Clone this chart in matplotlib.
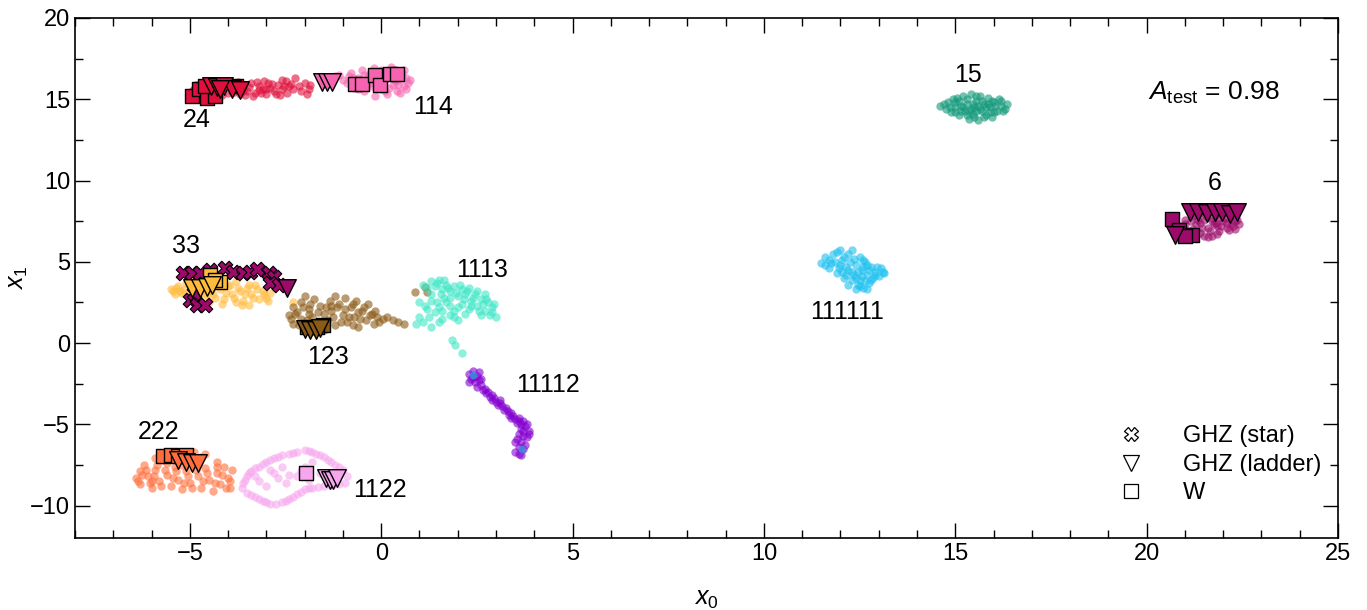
import numpy as np
import matplotlib
matplotlib.use("Agg")
import matplotlib.pyplot as plt
from matplotlib.lines import Line2D
from matplotlib.ticker import MultipleLocator

plt.rcParams['font.family'] = ['Liberation Sans', 'DejaVu Sans']
plt.rcParams['mathtext.fontset'] = 'custom'
plt.rcParams['mathtext.rm'] = 'Liberation Sans'
plt.rcParams['mathtext.it'] = 'Liberation Sans:italic'

# --- embedded points per partition class (x0, x1) ---
pts_24 = [(-5.0, 15.3), (-4.9, 15.6), (-4.8, 15.2), (-4.7, 15.8), (-4.6, 15.4), (-4.5, 15.9),
          (-4.4, 15.5), (-4.3, 15.2), (-4.2, 15.7), (-4.1, 16.0), (-4.0, 15.4), (-3.9, 15.6),
          (-3.8, 15.9), (-3.7, 15.3), (-3.6, 15.7), (-3.5, 15.5), (-3.4, 16.0), (-3.3, 15.4),
          (-3.2, 15.8), (-3.1, 15.6), (-3.0, 15.3), (-2.95, 16.0), (-2.9, 15.7), (-2.8, 15.5),
          (-2.7, 15.9), (-2.6, 15.6), (-2.5, 16.1), (-2.45, 15.4), (-2.4, 15.8), (-2.3, 15.6),
          (-2.25, 16.3), (-2.1, 15.5), (-2.0, 16.0), (-1.95, 15.3), (-1.9, 15.6), (-3.35, 15.2),
          (-3.75, 16.05), (-2.65, 15.25), (-3.05, 16.1), (-4.35, 16.05),
          (-4.95, 15.5), (-4.85, 15.9), (-4.65, 15.1), (-4.55, 15.65), (-4.25, 15.45),
          (-4.15, 15.25), (-3.95, 15.9), (-3.85, 15.45), (-3.65, 15.95), (-3.55, 15.25),
          (-3.45, 15.75), (-3.25, 16.05), (-3.15, 15.4), (-2.85, 15.95), (-2.75, 15.35),
          (-2.55, 15.8), (-2.35, 15.95), (-2.15, 15.8), (-3.6, 15.5), (-3.0, 15.6), (-2.6, 16.2),
          (-1.85, 15.9), (-3.2, 15.55), (-4.0, 16.1)]
pts_114 = [(-1.3, 16.2), (-1.1, 16.5), (-0.9, 16.0), (-0.8, 16.6), (-0.7, 15.7), (-0.6, 16.3),
           (-0.5, 16.8), (-0.45, 15.5), (-0.4, 16.1), (-0.3, 16.6), (-0.25, 15.8), (-0.2, 16.9),
           (-0.1, 16.3), (0.0, 15.6), (0.05, 16.0), (0.1, 16.7), (0.15, 15.3), (0.2, 16.4),
           (0.3, 15.9), (0.35, 16.8), (0.4, 15.5), (0.45, 16.2), (0.55, 16.6), (0.6, 15.8),
           (0.65, 16.3), (0.7, 16.0), (-0.55, 15.9), (-0.15, 15.2), (0.25, 17.0), (-0.75, 16.3),
           (0.5, 15.4), (-0.35, 16.4),
           (-1.2, 16.4), (-1.0, 16.2), (-0.85, 16.4), (-0.65, 16.0), (-0.45, 16.5), (-0.3, 16.0),
           (-0.2, 16.5), (-0.05, 16.0), (0.0, 16.8), (0.1, 16.2), (0.2, 15.7), (0.3, 16.5),
           (0.45, 15.9), (0.55, 16.3), (0.65, 15.6), (0.75, 16.2), (-0.6, 15.6), (0.1, 15.5),
           (-0.1, 16.6), (0.35, 16.1), (-0.4, 15.8), (0.6, 16.8)]
pts_15 = [(14.6, 14.6), (14.75, 14.4), (14.8, 14.8), (14.9, 14.2), (14.95, 15.0), (15.0, 14.5),
          (15.1, 14.0), (15.1, 14.9), (15.2, 15.2), (15.25, 14.3), (15.3, 14.7), (15.35, 13.8),
          (15.4, 15.3), (15.45, 14.1), (15.5, 14.5), (15.55, 14.9), (15.6, 13.7), (15.65, 15.2),
          (15.7, 14.3), (15.75, 14.7), (15.8, 14.0), (15.85, 15.1), (15.9, 14.5), (15.95, 13.9),
          (16.0, 14.8), (16.1, 14.3), (16.15, 15.0), (16.2, 14.6), (16.3, 14.4), (16.35, 14.7),
          (15.2, 14.5), (15.6, 14.6), (15.4, 14.4), (15.8, 14.5), (15.0, 14.2), (16.0, 14.2),
          (14.7, 14.7), (14.85, 14.5), (15.0, 14.8), (15.05, 15.1), (15.15, 14.6), (15.3, 14.0),
          (15.3, 15.0), (15.45, 14.7), (15.5, 13.9), (15.55, 15.2), (15.65, 14.4), (15.7, 14.9),
          (15.75, 13.9), (15.9, 14.2), (15.95, 14.9), (16.05, 14.6), (16.2, 14.9), (16.25, 14.3),
          (15.35, 14.3), (15.85, 14.7), (15.15, 14.3), (15.55, 14.3)]
pts_111111 = [(11.5, 4.9), (11.6, 5.3), (11.7, 4.6), (11.8, 5.5), (11.85, 5.0), (11.9, 4.3),
              (12.0, 5.7), (12.0, 4.8), (12.1, 4.0), (12.1, 5.3), (12.2, 4.5), (12.2, 3.6),
              (12.25, 5.0), (12.3, 5.7), (12.35, 4.2), (12.4, 3.3), (12.4, 4.8), (12.5, 5.3),
              (12.5, 3.9), (12.55, 4.5), (12.6, 3.4), (12.65, 5.0), (12.7, 4.2), (12.75, 3.7),
              (12.8, 4.7), (12.85, 4.0), (12.9, 4.4), (13.0, 4.1), (13.05, 4.6), (13.15, 4.3),
              (12.3, 3.9), (12.05, 4.4), (12.45, 4.4), (12.7, 3.3), (11.75, 4.9), (12.6, 4.7),
              (11.6, 4.8), (11.7, 5.1), (11.9, 5.6), (11.95, 4.6), (12.05, 5.1), (12.15, 4.7),
              (12.2, 5.5), (12.3, 4.4), (12.35, 5.2), (12.45, 3.6), (12.55, 4.1), (12.6, 5.1),
              (12.65, 3.8), (12.75, 4.5), (12.8, 3.9), (12.9, 4.2), (12.95, 4.7), (13.1, 4.4),
              (12.4, 4.0), (12.15, 4.2), (12.5, 3.5), (12.7, 4.8)]
pts_6 = [(20.9, 7.2), (21.0, 7.6), (21.1, 6.9), (21.2, 7.8), (21.3, 7.3), (21.4, 6.8), (21.5, 7.6),
         (21.5, 8.1), (21.6, 7.1), (21.7, 7.5), (21.7, 6.6), (21.8, 7.9), (21.85, 7.2), (21.9, 6.9),
         (22.0, 7.5), (22.0, 8.0), (22.1, 7.1), (22.2, 7.4), (22.3, 7.0), (22.35, 7.6), (21.3, 7.9),
         (21.6, 6.5), (21.9, 7.7), (21.2, 7.0), (22.2, 7.8), (21.4, 7.4), (22.4, 7.3), (21.75, 7.3),
         (21.0, 7.3), (21.15, 7.5), (21.25, 6.8), (21.35, 7.6), (21.45, 7.1), (21.55, 7.8),
         (21.65, 6.9), (21.8, 7.4), (21.95, 7.2), (22.05, 7.7), (22.15, 6.95), (22.25, 7.2),
         (22.3, 7.5), (21.5, 6.6), (21.85, 6.7), (22.1, 7.4), (21.7, 7.7), (21.4, 8.0)]
pts_33 = [(-5.5, 3.3), (-5.4, 3.0), (-5.3, 3.5), (-5.2, 3.1), (-5.1, 3.7), (-5.0, 3.3), (-4.9, 2.9),
          (-4.8, 3.6), (-4.7, 3.2), (-4.6, 2.8), (-4.5, 3.5), (-4.4, 3.0), (-4.3, 3.7), (-4.2, 3.3),
          (-4.1, 2.7), (-4.0, 3.5), (-3.9, 3.0), (-3.8, 3.8), (-3.7, 3.2), (-3.6, 2.6), (-3.5, 3.4),
          (-3.4, 3.0), (-3.3, 3.6), (-3.2, 2.7), (-3.1, 3.2), (-3.0, 2.8), (-2.9, 3.1), (-2.3, 2.5),
          (-4.5, 2.5), (-3.8, 2.5), (-4.9, 3.9), (-3.45, 2.35),
          (-5.45, 3.2), (-5.35, 3.4), (-5.15, 3.3), (-5.05, 2.9), (-4.95, 3.5), (-4.75, 3.0),
          (-4.65, 3.5), (-4.45, 3.2), (-4.35, 2.8), (-4.25, 3.5), (-4.05, 3.1), (-3.95, 3.6),
          (-3.85, 2.8), (-3.75, 3.4), (-3.55, 3.0), (-3.45, 3.6), (-3.35, 2.8), (-3.25, 3.3),
          (-3.05, 3.0), (-2.95, 2.6), (-4.15, 2.4), (-3.65, 2.35), (-5.25, 3.2), (-4.55, 3.0)]
pts_123 = [(-2.4, 1.7), (-2.3, 2.2), (-2.3, 1.2), (-2.2, 1.9), (-2.1, 2.5), (-2.1, 1.5), (-2.0, 1.0),
           (-1.9, 2.1), (-1.8, 1.6), (-1.75, 2.7), (-1.7, 1.2), (-1.6, 2.3), (-1.5, 1.8), (-1.4, 1.4),
           (-1.35, 2.6), (-1.3, 2.0), (-1.2, 1.1), (-1.1, 2.4), (-1.0, 1.7), (-0.95, 2.8), (-0.9, 1.3),
           (-0.8, 2.2), (-0.7, 1.6), (-0.65, 2.6), (-0.6, 1.0), (-0.5, 2.0), (-0.4, 1.4), (-0.35, 2.4),
           (-0.25, 1.8), (-0.2, 1.2), (-0.1, 1.6), (0.15, 1.6), (0.3, 1.4), (0.45, 1.3), (0.6, 1.2),
           (0.89, 3.15), (1.15, 3.46), (1.19, 3.15), (-2.0, 2.9), (-1.5, 0.8), (-1.2, 2.9), (-0.75, 1.1),
           (-2.35, 1.5), (-2.25, 1.8), (-2.15, 1.1), (-2.05, 2.2), (-1.95, 1.4), (-1.85, 2.4),
           (-1.65, 1.9), (-1.55, 1.1), (-1.45, 2.2), (-1.25, 1.6), (-1.15, 2.2), (-1.05, 1.3),
           (-0.95, 2.1), (-0.85, 1.6), (-0.75, 2.4), (-0.55, 1.5), (-0.45, 2.2), (-0.3, 1.7),
           (-0.15, 2.0), (-0.05, 1.3), (0.05, 1.5), (-1.3, 2.3), (-1.9, 1.8), (-0.6, 1.9)]
pts_1113 = [(1.1, 3.6), (1.3, 3.8), (1.4, 3.5), (1.5, 3.9), (1.6, 3.3), (1.55, 3.0), (1.7, 3.6),
            (1.8, 3.2), (1.9, 3.5), (2.0, 2.9), (2.1, 3.3), (2.2, 3.0), (2.3, 3.4), (2.4, 2.8),
            (2.5, 3.2), (2.6, 2.7), (2.7, 3.0), (2.8, 2.5), (2.9, 2.2), (3.0, 1.6), (2.9, 1.9),
            (2.7, 2.0), (2.5, 2.3), (2.3, 2.1), (2.1, 2.4), (1.9, 2.0), (1.7, 2.5), (1.5, 2.2),
            (1.3, 2.6), (1.4, 1.9), (1.2, 2.1), (1.6, 1.5), (1.8, 1.7), (2.0, 1.4), (1.1, 1.3),
            (0.9, 1.2), (1.0, 1.6), (1.3, 1.0), (2.2, 1.8), (2.6, 1.7), (1.86, 0.18), (1.93, -0.12),
            (2.12, -0.61), (1.8, 2.8), (1.3, 3.0), (1.0, 2.5),
            (1.2, 3.4), (1.45, 3.7), (1.65, 3.9), (1.75, 3.4), (1.95, 3.1), (2.05, 3.6), (2.25, 3.2),
            (2.35, 2.6), (2.45, 3.0), (2.65, 2.4), (2.75, 2.7), (2.95, 2.4), (2.85, 1.7), (2.55, 2.0),
            (2.35, 2.3), (2.0, 2.2), (1.8, 2.3), (1.6, 2.0), (1.45, 2.5), (1.25, 1.6), (1.5, 1.3),
            (1.9, 1.6), (1.15, 2.3), (1.65, 2.8), (2.15, 2.7)]
pts_11112 = [(2.3, -1.9), (2.4, -1.7), (2.5, -2.0), (2.35, -2.2), (2.55, -1.8), (2.45, -2.4),
             (2.6, -2.2), (2.5, -2.7), (2.65, -2.9), (2.75, -3.1), (2.85, -3.3), (2.9, -3.5),
             (3.0, -3.6), (3.05, -3.8), (3.15, -3.9), (3.2, -4.1), (3.3, -4.2), (3.35, -4.4),
             (3.45, -4.5), (3.5, -4.7), (3.55, -4.9), (3.6, -4.6), (3.7, -4.8), (3.75, -5.1),
             (3.65, -5.3), (3.6, -5.6), (3.55, -5.9), (3.7, -5.7), (3.65, -6.1), (3.6, -6.4),
             (3.75, -6.3), (3.6, -6.8), (3.85, -5.4), (2.9, -3.2), (3.1, -3.7), (3.4, -4.3),
             (2.4, -2.1), (2.55, -2.3), (2.6, -2.6), (2.7, -2.8), (2.8, -3.0), (2.95, -3.4),
             (3.1, -3.5), (3.25, -4.0), (3.4, -4.6), (3.6, -4.8), (3.8, -5.0), (3.7, -5.4),
             (3.8, -5.8), (3.5, -6.1), (3.7, -6.5), (3.5, -6.7), (3.65, -6.9), (3.85, -5.6),
             (2.3, -2.4), (3.65, -5.0)]
pts_blue = [(2.40, -1.97), (3.68, -6.53)]
pts_222 = [(-6.4, -8.3), (-6.3, -7.9), (-6.3, -8.7), (-6.2, -7.5), (-6.1, -8.2), (-6.0, -8.9),
           (-5.9, -7.8), (-5.8, -8.5), (-5.7, -7.2), (-5.6, -8.1), (-5.5, -8.8), (-5.4, -7.6),
           (-5.3, -8.4), (-5.2, -9.0), (-5.1, -7.9), (-5.0, -8.6), (-4.9, -7.3), (-4.8, -8.2),
           (-4.7, -8.9), (-4.6, -7.7), (-4.5, -8.4), (-4.4, -9.1), (-4.3, -8.0), (-4.2, -8.7),
           (-4.1, -7.6), (-4.0, -8.3), (-3.95, -8.9), (-4.6, -6.8), (-4.9, -6.7), (-5.5, -6.9),
           (-5.9, -7.1), (-4.3, -7.3), (-3.9, -7.8), (-6.0, -8.5), (-5.3, -7.0),
           (-6.35, -8.5), (-6.25, -8.1), (-6.15, -7.8), (-6.05, -8.6), (-5.95, -8.2), (-5.85, -7.5),
           (-5.75, -8.8), (-5.65, -7.8), (-5.45, -8.3), (-5.35, -7.9), (-5.15, -8.6), (-5.05, -8.2),
           (-4.95, -8.9), (-4.85, -7.8), (-4.65, -8.5), (-4.55, -8.0), (-4.35, -8.6), (-4.15, -8.1),
           (-4.05, -8.9), (-5.6, -7.4), (-5.2, -7.5), (-4.7, -7.0), (-4.3, -7.6), (-3.95, -8.5)]
pts_1122 = [(-3.6, -8.6), (-3.5, -8.2), (-3.4, -7.9), (-3.2, -7.6), (-3.0, -7.3), (-2.8, -7.1),
            (-2.6, -6.9), (-2.4, -6.8), (-2.2, -6.7), (-2.0, -6.6), (-1.8, -6.7), (-1.6, -6.9),
            (-1.4, -7.2), (-1.2, -7.5), (-1.0, -7.8), (-0.9, -8.2), (-3.5, -9.2), (-3.3, -9.5),
            (-3.1, -9.7), (-2.9, -9.9), (-2.6, -9.8), (-2.4, -9.6), (-2.2, -9.3), (-2.0, -9.0),
            (-1.8, -8.9), (-1.5, -8.8), (-1.2, -8.7), (-0.95, -8.6), (-2.8, -8.0), (-2.5, -8.6),
            (-2.2, -8.2), (-3.0, -8.8), (-2.0, -7.6), (-2.6, -7.6), (-1.6, -8.0), (-1.8, -7.3),
            (-3.2, -8.5), (-1.3, -8.2),
            (-3.65, -8.9), (-3.55, -8.4), (-3.45, -8.0), (-3.3, -7.7), (-3.1, -7.45), (-2.9, -7.2),
            (-2.7, -7.0), (-2.3, -6.75), (-1.9, -6.65), (-1.7, -6.8), (-1.5, -7.0), (-1.3, -7.35),
            (-1.1, -7.6), (-3.4, -9.35), (-3.2, -9.6), (-3.0, -9.8), (-2.75, -9.9), (-2.5, -9.7),
            (-2.3, -9.45), (-2.1, -9.15), (-1.9, -8.95), (-1.65, -8.85), (-1.35, -8.75),
            (-1.1, -8.65), (-2.7, -8.3), (-2.4, -8.1), (-2.1, -7.9), (-1.9, -8.4), (-2.9, -7.8),
            (-3.3, -8.2)]

classes = ['24', '114', '15', '111111', '6', '33', '123', '1113', '11112', '222', '1122']
class_pts = [pts_24, pts_114, pts_15, pts_111111, pts_6, pts_33, pts_123, pts_1113,
             pts_11112, pts_222, pts_1122]
class_colors = ['#e0103c', '#f763b0', '#12997a', '#1cc0f0', '#9c0a6a', '#ffbb3c', '#8b5a16',
                '#3ee6c6', '#8400d0', '#ff6e3c', '#f7a6ee']
label_pos = [(-4.83, 13.7), (1.36, 14.5), (15.34, 16.5), (12.18, 1.9), (21.77, 9.83),
             (-5.1, 5.96), (-1.38, -0.86), (2.64, 4.49), (4.36, -2.58), (-5.83, -5.47),
             (-0.03, -9.03)]

# --- special states: (x0, x1, colour) ---
ghz_star = [(-5.17, 4.28), (-4.95, 4.28), (-4.73, 4.28), (-4.47, 4.49), (-4.08, 4.59),
            (-3.86, 4.38), (-3.60, 4.28), (-3.42, 4.38), (-3.25, 4.53), (-2.94, 4.28),
            (-2.81, 4.08), (-2.90, 3.67), (-2.68, 3.56), (-4.99, 2.64), (-4.82, 2.34),
            (-4.60, 2.34), (-4.90, 3.05)]
ghz_star_color = '#9c0a6a'
ghz_ladder = [(-4.45, 15.8, '#e0103c'), (-4.3, 15.75, '#e0103c'), (-4.1, 15.8, '#e0103c'),
              (-3.9, 15.65, '#e0103c'), (-3.7, 15.55, '#e0103c'), (-4.2, 15.6, '#e0103c'),
              (-1.55, 16.06, '#f763b0'), (-1.42, 16.06, '#f763b0'), (-1.29, 16.06, '#f763b0'),
              (21.14, 8.05, '#9c0a6a'), (21.35, 8.05, '#9c0a6a'), (21.58, 8.0, '#9c0a6a'),
              (21.79, 8.05, '#9c0a6a'), (21.98, 8.05, '#9c0a6a'), (22.18, 7.95, '#9c0a6a'),
              (22.37, 8.05, '#9c0a6a'), (20.75, 6.64, '#9c0a6a'),
              (-4.95, 3.36, '#ffbb3c'), (-4.73, 3.36, '#ffbb3c'), (-4.55, 3.46, '#ffbb3c'),
              (-4.42, 3.56, '#ffbb3c'), (-2.46, 3.36, '#9c0a6a'),
              (-2.0, 0.85, '#8b5a16'), (-1.85, 0.8, '#8b5a16'), (-1.7, 0.8, '#8b5a16'),
              (-1.6, 0.9, '#8b5a16'),
              (-5.3, -7.2, '#ff6e3c'), (-5.1, -7.3, '#ff6e3c'), (-4.95, -7.4, '#ff6e3c'),
              (-4.8, -7.4, '#ff6e3c'),
              (-1.45, -8.3, '#f7a6ee'), (-1.35, -8.4, '#f7a6ee'), (-1.25, -8.4, '#f7a6ee'),
              (-1.15, -8.3, '#f7a6ee')]
w_state = [(-4.95, 15.2, '#e0103c'), (-4.75, 15.6, '#e0103c'), (-4.55, 15.1, '#e0103c'),
           (-4.35, 15.2, '#e0103c'), (-4.6, 15.8, '#e0103c'), (-3.8, 15.8, '#e0103c'),
           (-0.68, 15.96, '#f763b0'), (-0.5, 15.92, '#f763b0'), (-0.16, 16.47, '#f763b0'),
           (-0.03, 15.86, '#f763b0'), (0.24, 16.58, '#f763b0'), (0.41, 16.53, '#f763b0'),
           (20.66, 7.66, '#9c0a6a'), (20.84, 6.95, '#9c0a6a'), (21.18, 6.64, '#9c0a6a'),
           (21.01, 6.58, '#9c0a6a'),
           (-4.47, 4.18, '#ffbb3c'), (-4.21, 3.77, '#ffbb3c'), (-4.34, 3.87, '#ffbb3c'),
           (-1.52, 1.1, '#8b5a16'), (-1.67, 1.0, '#8b5a16'), (-1.93, 1.0, '#8b5a16'),
           (-5.7, -6.95, '#ff6e3c'), (-5.5, -6.9, '#ff6e3c'), (-5.3, -6.95, '#ff6e3c'),
           (-5.1, -6.9, '#ff6e3c'),
           (-1.97, -8.0, '#f7a6ee')]
a_test = 0.98

fig = plt.figure(figsize=(13.67, 6.10), dpi=100)
ax = fig.add_axes([0.0549, 0.118, 0.9239, 0.8525])

for pts, col in zip(class_pts, class_colors):
    p = np.array(pts)
    ax.scatter(p[:, 0], p[:, 1], s=36, c=col, alpha=0.6, linewidths=0)
p = np.array(pts_blue)
ax.scatter(p[:, 0], p[:, 1], s=30, c='#3a8ee0', alpha=0.85, linewidths=0)

for name, (lx, ly) in zip(classes, label_pos):
    ax.text(lx, ly, name, fontsize=18, ha='center', va='center')

p = np.array(ghz_star)
ax.scatter(p[:, 0], p[:, 1], s=110, marker='X', c=ghz_star_color, edgecolors='k', linewidths=0.8)
for x, y, c in w_state:
    ax.scatter(x, y, s=95, marker='s', c=c, edgecolors='k', linewidths=1.0)
for x, y, c in ghz_ladder:
    ax.scatter(x, y, s=160, marker='v', c=c, edgecolors='k', linewidths=1.0)

ax.text(20.04, 15.4, r'$A_{\mathrm{test}}$ = %.2f' % a_test, fontsize=19, ha='left', va='center')

handles = [Line2D([], [], ls='none', marker='X', ms=10, mfc='white', mec='k', mew=0.9),
           Line2D([], [], ls='none', marker='v', ms=11, mfc='white', mec='k', mew=0.9),
           Line2D([], [], ls='none', marker='s', ms=10, mfc='white', mec='k', mew=0.9)]
ax.legend(handles, ['GHZ (star)', 'GHZ (ladder)', 'W'], frameon=False, fontsize=17,
          loc='upper left', bbox_to_anchor=(0.81, 0.235), handletextpad=1.2,
          labelspacing=0.28, borderaxespad=0)

ax.set_xlim(-8, 25)
ax.set_ylim(-12, 20)
ax.xaxis.set_minor_locator(MultipleLocator(1))
ax.yaxis.set_minor_locator(MultipleLocator(2.5))
ax.tick_params(which='both', direction='in', top=True, right=True, labelsize=17, width=1)
ax.tick_params(which='major', length=11)
ax.tick_params(which='minor', length=5.5)
ax.set_xlabel(r'$x_0$', fontsize=18, labelpad=16)
ax.set_ylabel(r'$x_1$', fontsize=18, labelpad=0)
for sp in ax.spines.values():
    sp.set_linewidth(1.2)

fig.savefig('out.png', dpi=100)
